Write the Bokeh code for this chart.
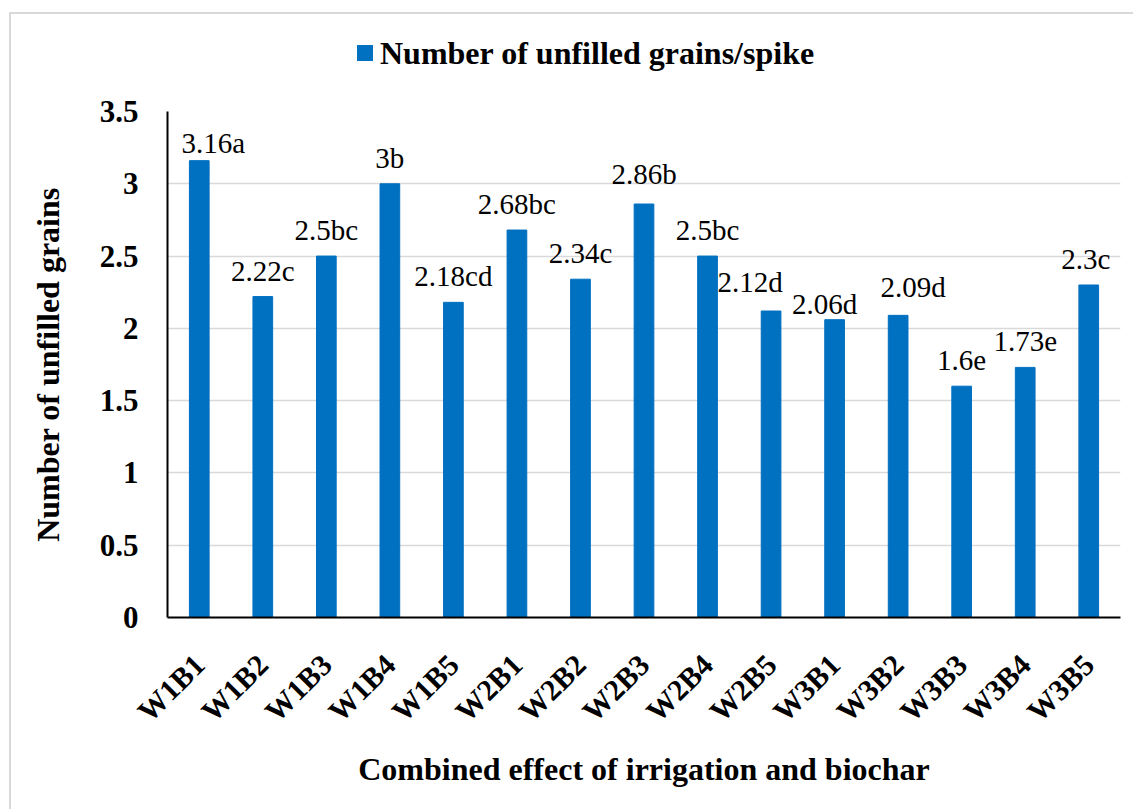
import math
from bokeh.plotting import figure
from bokeh.models import ColumnDataSource, FixedTicker, Range1d, LabelSet, Div
from bokeh.layouts import column
from bokeh.core.properties import value
from bokeh.embed import file_html
from bokeh.resources import INLINE

# ---- data ----
categories = ["W1B1", "W1B2", "W1B3", "W1B4", "W1B5",
              "W2B1", "W2B2", "W2B3", "W2B4", "W2B5",
              "W3B1", "W3B2", "W3B3", "W3B4", "W3B5"]
values = [3.16, 2.22, 2.5, 3.0, 2.18, 2.68, 2.34, 2.86, 2.5, 2.12, 2.06, 2.09, 1.6, 1.73, 2.3]
bar_labels = ["3.16a", "2.22c", "2.5bc", "3b", "2.18cd", "2.68bc", "2.34c", "2.86b",
              "2.5bc", "2.12d", "2.06d", "2.09d", "1.6e", "1.73e", "2.3c"]
y_ticks = [0, 0.5, 1, 1.5, 2, 2.5, 3, 3.5]
y_tick_labels = ["0", "0.5", "1", "1.5", "2", "2.5", "3", "3.5"]
series_name = "Number of unfilled grains/spike"
x_title = "Combined effect of irrigation and biochar"
y_title = "Number of unfilled grains"

# ---- styling ----
BLUE = "#0070C0"
FONT = "Liberation Serif"
LABEL_GAP = 26  # px between bar top and label centre
# hand-placed label nudges (px) as in the original chart
nudges = {"W1B1": (14, -8), "W2B3": (0, 4), "W2B5": (-21, 3), "W3B1": (-10, -10),
          "W3B2": (15, 2), "W3B5": (-3, 0)}
dx = [nudges.get(c, (0, 0))[0] for c in categories]
dy = [LABEL_GAP + nudges.get(c, (0, 0))[1] for c in categories]

src = ColumnDataSource(dict(cat=categories, val=values, lab=bar_labels, dx=dx, dy=dy))

p = figure(x_range=categories, y_range=Range1d(0, 3.5),
           width=1122, height=725, output_backend="svg", toolbar_location=None,
           min_border_left=156, min_border_right=13, min_border_top=27, min_border_bottom=192)

bars = p.vbar(x="cat", top="val", width=0.31, source=src, fill_color=BLUE, line_color=BLUE)

labels = LabelSet(x="cat", y="val", text="lab", source=src, text_align="center",
                  text_baseline="middle", x_offset="dx", y_offset="dy", text_font=value(FONT),
                  text_font_size=value("29px"), text_color=value("black"))
p.add_layout(labels)

p.outline_line_color = None
p.background_fill_color = "white"
p.border_fill_color = "white"

p.xgrid.grid_line_color = None
p.ygrid.grid_line_color = "#d9d9d9"
p.ygrid.grid_line_width = 1.5

p.yaxis.ticker = FixedTicker(ticks=y_ticks)
p.yaxis.major_label_overrides = {t: s for t, s in zip(y_ticks, y_tick_labels)}
for ax in (p.xaxis[0], p.yaxis[0]):
    ax.axis_line_color = "black"
    ax.axis_line_width = 2
    ax.major_tick_out = 0
    ax.major_tick_in = 0
    ax.minor_tick_out = 0
    ax.minor_tick_in = 0
    ax.major_label_text_font = FONT
    ax.major_label_text_font_style = "bold"
    ax.major_label_text_font_size = "31px"
    ax.major_label_text_color = "black"
    ax.axis_label_text_font = FONT
    ax.axis_label_text_font_style = "bold"
    ax.axis_label_text_font_size = "32px"
    ax.axis_label_text_color = "black"

p.xaxis.major_label_text_font_size = "30px"

p.yaxis.axis_label = y_title
p.yaxis.major_label_standoff = 29
p.yaxis.axis_label_standoff = 31

p.xaxis.axis_label = x_title
p.xaxis.major_label_orientation = math.pi / 4
p.xaxis.major_label_standoff = 42
p.xaxis.axis_label_standoff = 9

legend_html = (
    '<div style="position:relative;width:1122px;height:70px;">'
    f'<span style="position:absolute;left:346px;top:31px;width:16px;height:16px;background:{BLUE};"></span>'
    f'<span style="position:absolute;left:369px;top:20px;line-height:38px;white-space:nowrap;'
    f'font-family:\'{FONT}\';font-weight:bold;font-size:32px;color:black;">{series_name}</span>'
    '</div>'
)
legend_div = Div(text=legend_html, width=1122, height=70, margin=0)

layout = column(legend_div, p, spacing=0,
                styles={"border-left": "2px solid #d9d9d9", "border-top": "2px solid #d9d9d9",
                        "margin-left": "9px", "margin-top": "12px", "background": "white"})

open("out.html", "w").write(file_html(layout, INLINE))
